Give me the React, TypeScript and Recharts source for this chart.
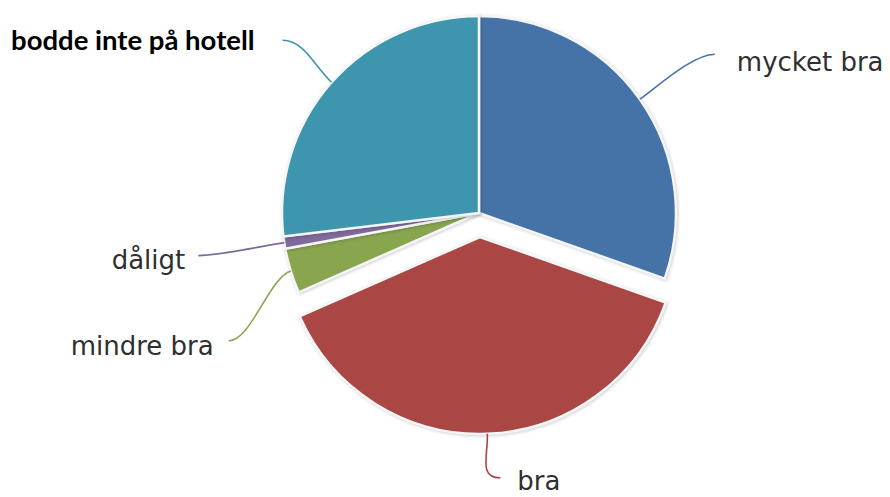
import React from "react";
import { PieChart, Pie, Cell } from "recharts";

const categories = ["mycket bra", "bra", "mindre bra", "dåligt", "bodde inte på hotell"];
const values = [30.4, 38.0, 3.7, 1.0, 26.9];
const colors = ["#4572A7", "#AA4643", "#89A54E", "#80699B", "#3D96AE"];
const explodedName = "bra";

const data = categories.map((name, i) => ({ name, value: values[i] }));

// label layout (connector end relative to slice edge, and text placement)
const labelLayout: Record<string, { dx: number; dy: number; dir: number; tx: number; ty: number; bold?: boolean }> = {
  "mycket bra": { dx: 75, dy: -45, dir: 1, tx: 22, ty: 8 },
  "bra": { dx: 13, dy: 44, dir: 1, tx: 17, ty: 3 },
  "mindre bra": { dx: -62, dy: 70, dir: -1, tx: 15, ty: 5 },
  "dåligt": { dx: -86, dy: 13, dir: -1, tx: 13, ty: 4 },
  "bodde inte på hotell": { dx: -49, dy: -42, dir: -1, tx: 28, ty: -1, bold: true },
};

const CX = 479;
const CY = 213;
const R = 197;
const EXPLODE = 24;

const total = values.reduce((a, b) => a + b, 0);
const exIdx = categories.indexOf(explodedName);
const before = values.slice(0, exIdx).reduce((a, b) => a + b, 0);
const exMid = 90 - (360 * (before + values[exIdx] / 2)) / total;
const exDx = EXPLODE * Math.cos((exMid * Math.PI) / 180);
const exDy = -EXPLODE * Math.sin((exMid * Math.PI) / 180);

const makeLabel = (onlyExploded: boolean) => (props: any) => {
  const { cx, cy, midAngle, outerRadius, name, index } = props;
  const nm = name ?? categories[index];
  const isEx = nm === explodedName;
  if (isEx !== onlyExploded) return null;
  const lay = labelLayout[nm];
  const a = (midAngle * Math.PI) / 180;
  const ux = Math.cos(a);
  const uy = -Math.sin(a);
  const ex = cx + outerRadius * ux;
  const ey = cy + outerRadius * uy;
  const lx = ex + lay.dx;
  const ly = ey + lay.dy;
  const c1x = ex + ux * 22;
  const c1y = ey + uy * 22;
  const c2x = lx - lay.dir * 22;
  const c2y = ly;
  const color = colors[categories.indexOf(nm)];
  return (
    <g key={"lbl-" + nm}>
      <path
        d={`M${ex},${ey} C${c1x},${c1y} ${c2x},${c2y} ${lx},${ly}`}
        stroke={color}
        strokeWidth={1.6}
        fill="none"
      />
      <text
        x={lx + lay.dir * lay.tx}
        y={ly + lay.ty}
        textAnchor={lay.dir > 0 ? "start" : "end"}
        dominantBaseline="central"
        fill={lay.bold ? "#000" : "#2f2f2f"}
        fontFamily={lay.bold ? "Lato, 'Open Sans', sans-serif" : "'DejaVu Sans', sans-serif"}
        fontWeight={lay.bold ? 700 : 400}
        fontSize={lay.bold ? 27.5 : 26}
      >
        {nm}
      </text>
    </g>
  );
};

export default function App() {
  return (
    <div style={{ position: "fixed", left: 0, top: 0, width: 890, height: 497, background: "#fff" }}>
      <PieChart width={890} height={497} margin={{ top: 0, right: 0, bottom: 0, left: 0 }}>
        <Pie
          data={data}
          dataKey="value"
          nameKey="name"
          cx={CX}
          cy={CY}
          outerRadius={R}
          innerRadius={0}
          startAngle={90}
          endAngle={-270}
          isAnimationActive={false}
          labelLine={false}
          label={makeLabel(false)}
        >
          {data.map((d, i) => (
            <Cell
              key={d.name}
              fill={d.name === explodedName ? "transparent" : colors[i]}
              stroke={d.name === explodedName ? "none" : "#f4f6f8"}
              strokeWidth={2.5}
              style={{ filter: "drop-shadow(1px 1px 1.5px rgba(0,0,0,0.18))" }}
            />
          ))}
        </Pie>
        <Pie
          data={data}
          dataKey="value"
          nameKey="name"
          cx={CX + exDx}
          cy={CY + exDy}
          outerRadius={R}
          innerRadius={0}
          startAngle={90}
          endAngle={-270}
          isAnimationActive={false}
          labelLine={false}
          label={makeLabel(true)}
        >
          {data.map((d, i) => (
            <Cell
              key={d.name}
              fill={d.name === explodedName ? colors[i] : "transparent"}
              stroke={d.name === explodedName ? "#f4f6f8" : "none"}
              strokeWidth={2.5}
              style={{ filter: "drop-shadow(1px 1px 1.5px rgba(0,0,0,0.18))" }}
            />
          ))}
        </Pie>
      </PieChart>
    </div>
  );
}
